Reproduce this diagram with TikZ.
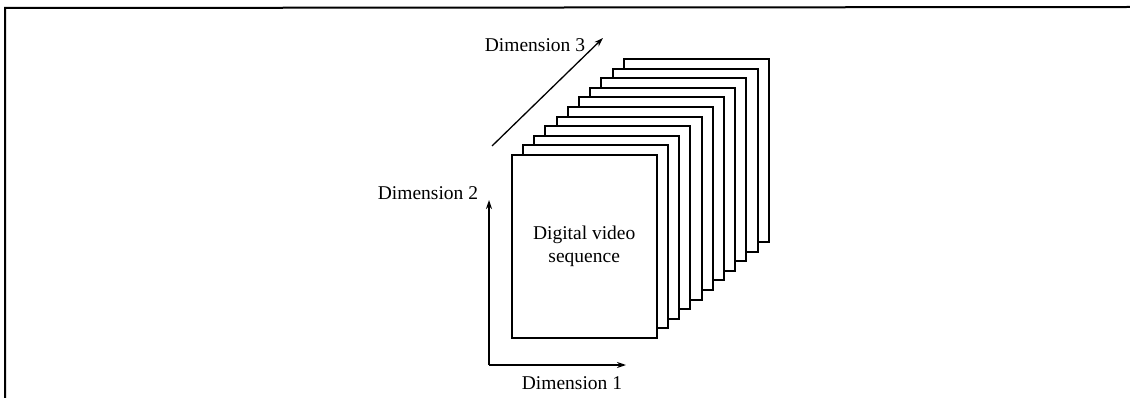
\documentclass[tikz,border=0pt]{standalone}
\usepackage{fontspec}
\setmainfont{Liberation Serif}
\usetikzlibrary{arrows.meta}
\begin{document}
\begin{tikzpicture}[x=1pt,y=-1pt,
  sheet/.style={draw, fill=white, line width=2pt, minimum width=145pt, minimum height=183pt, inner sep=0pt, anchor=north west},
  axis/.style={line width=1.3pt, -{Stealth[length=9pt,width=6pt]}},
  lbl/.style={font=\fontsize{19.5}{23}\selectfont, inner sep=0pt}]
\useasboundingbox (0,0) rectangle (1130,398);
\draw[line width=2pt] (5,398) -- (5,8) -- (1130,7);
\foreach \i in {10,9,...,0} {
  \node[sheet] (f\i) at ({510.7+11.2*\i},{154-9.6*\i}) {};
}
\node[lbl, align=center] (txt) at (f0.center) {Digital video\\sequence};
\coordinate (o) at (489,365);
\coordinate (d1) at (626,365);
\coordinate (d2) at (489,200);
\draw[axis] (o) -- (d1);
\draw[axis] (o) -- (d2);
\coordinate (s3) at (492,146);
\coordinate (e3) at (603,38);
\draw[axis] (s3) -- (e3);
\node[lbl] (l1) at (572,383) {Dimension 1};
\node[lbl] (l2) at (428,193) {Dimension 2};
\node[lbl] (l3) at (535,45) {Dimension 3};
\end{tikzpicture}
\end{document}
